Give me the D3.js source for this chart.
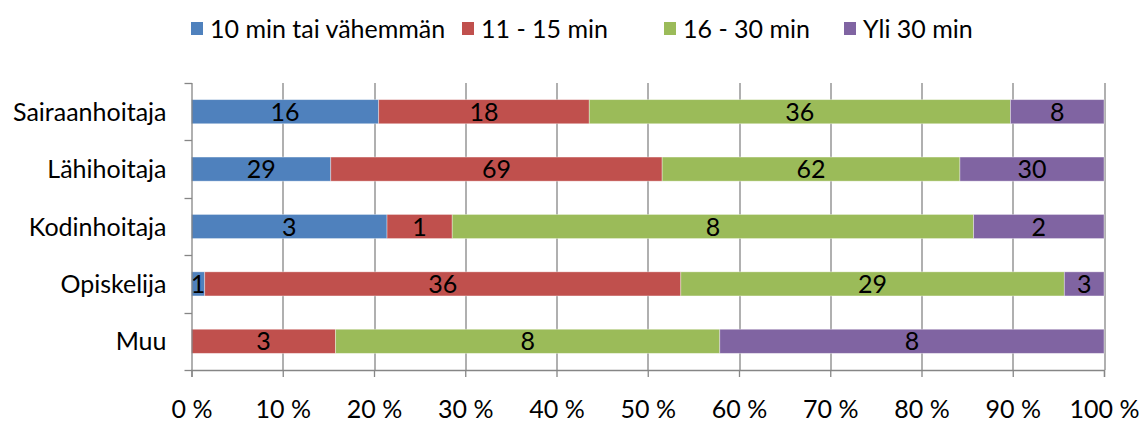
<!DOCTYPE html>
<html>
<head>
<meta charset="utf-8">
<script src="https://cdn.jsdelivr.net/npm/d3@7"></script>
<style>
  html, body { margin: 0; padding: 0; background: #fff; }
  svg { display: block; }
  text { font-family: Lato, "Open Sans", sans-serif; fill: #000; }
</style>
</head>
<body>
<svg id="chart" width="1141" height="423"></svg>
<script>
// Occupational groups (top to bottom) and answer counts per travel-time class
const categories = ["Sairaanhoitaja", "Lähihoitaja", "Kodinhoitaja", "Opiskelija", "Muu"];
const seriesNames = ["10 min tai vähemmän", "11 - 15 min", "16 - 30 min", "Yli 30 min"];
const seriesColors = ["#4F81BD", "#C0504D", "#9BBB59", "#8064A2"];
const under10 = [16, 29, 3, 1, 0];
const from11to15 = [18, 69, 1, 36, 3];
const from16to30 = [36, 62, 8, 29, 8];
const over30 = [8, 30, 2, 3, 8];
const tickValues = [0, 0.1, 0.2, 0.3, 0.4, 0.5, 0.6, 0.7, 0.8, 0.9, 1.0];
const tickLabels = ["0 %", "10 %", "20 %", "30 %", "40 %", "50 %", "60 %", "70 %", "80 %", "90 %", "100 %"];

const seriesValues = [under10, from11to15, from16to30, over30];
const rows = categories.map((c, i) => {
  const r = { category: c };
  seriesNames.forEach((s, j) => { r[s] = seriesValues[j][i]; });
  return r;
});

const FS = 25;
const svg = d3.select("#chart");
const margin = { left: 191.5, right: 37, top: 83, bottom: 53 };
const W = 1141, H = 423;
const plotW = W - margin.left - margin.right;
const plotH = H - margin.top - margin.bottom;

const x = d3.scaleLinear().domain([0, 1]).range([0, plotW]);
const y = d3.scaleBand().domain(categories).range([0, plotH]).paddingInner(0.58).paddingOuter(0.29);
const yEdges = d3.scaleBand().domain(categories).range([0, plotH]);

const stack = d3.stack().keys(seriesNames).offset(d3.stackOffsetExpand);
const layers = stack(rows);

const g = svg.append("g").attr("transform", `translate(${margin.left},${margin.top})`);

// vertical gridlines
g.append("g").selectAll("line").data(tickValues.slice(1)).join("line")
  .attr("x1", d => Math.round(x(d)) + 0.5).attr("x2", d => Math.round(x(d)) + 0.5)
  .attr("y1", 0).attr("y2", plotH)
  .attr("stroke", "#868686").attr("stroke-width", 1.3);

// stacked bars
const layerG = g.append("g").selectAll("g").data(layers).join("g")
  .attr("fill", (d, i) => seriesColors[i]);
layerG.selectAll("rect").data(d => d.map(v => ({ v, key: d.key }))).join("rect")
  .attr("x", d => x(d.v[0]))
  .attr("width", d => x(d.v[1]) - x(d.v[0]))
  .attr("y", d => y(d.v.data.category))
  .attr("height", y.bandwidth())
  .attr("stroke", "rgba(255,255,255,0.45)").attr("stroke-width", 0.8);

// value labels
layerG.selectAll("text").data(d => d.map(v => ({ v, key: d.key })).filter(d => d.v.data[d.key] > 0)).join("text")
  .attr("x", d => (x(d.v[0]) + x(d.v[1])) / 2)
  .attr("y", d => y(d.v.data.category) + y.bandwidth() / 2)
  .attr("dy", "0.36em")
  .attr("text-anchor", "middle")
  .attr("font-size", FS)
  .text(d => d.v.data[d.key]);

// category axis
const yAxisG = g.append("g");
yAxisG.append("line").attr("x1", 0.5).attr("x2", 0.5).attr("y1", 0).attr("y2", plotH)
  .attr("stroke", "#868686").attr("stroke-width", 1.3);
const edges = categories.map(c => yEdges(c)).concat([plotH]);
yAxisG.selectAll("line.tick").data(edges).join("line").attr("class", "tick")
  .attr("x1", -7).attr("x2", 0.5).attr("y1", d => Math.round(d) + 0.5).attr("y2", d => Math.round(d) + 0.5)
  .attr("stroke", "#868686").attr("stroke-width", 1.3);
yAxisG.selectAll("text").data(categories).join("text")
  .attr("x", -25).attr("y", c => yEdges(c) + yEdges.bandwidth() / 2)
  .attr("dy", "0.36em").attr("text-anchor", "end").attr("font-size", FS)
  .text(c => c);

// percentage axis
const xAxis = d3.axisBottom(x).tickValues(tickValues)
  .tickFormat((d, i) => tickLabels[i]).tickSize(7).tickPadding(23);
const xAxisG = g.append("g").attr("transform", `translate(0,${plotH})`).call(xAxis);
xAxisG.select(".domain").attr("stroke", "#868686").attr("stroke-width", 1.3);
xAxisG.selectAll(".tick line").attr("stroke", "#868686").attr("stroke-width", 1.3);
xAxisG.selectAll(".tick text").attr("font-size", FS).attr("font-family", "Lato, sans-serif").attr("fill", "#000");

// legend
const legendX = [191, 462, 664, 844];
const legend = svg.append("g").selectAll("g").data(seriesNames).join("g")
  .attr("transform", (d, i) => `translate(${legendX[i]},22)`);
legend.append("rect").attr("width", 12).attr("height", 13).attr("fill", (d, i) => seriesColors[i]);
legend.append("text").attr("x", 19).attr("y", 6.5).attr("dy", "0.36em")
  .attr("font-size", FS).text(d => d);
</script>
</body>
</html>
